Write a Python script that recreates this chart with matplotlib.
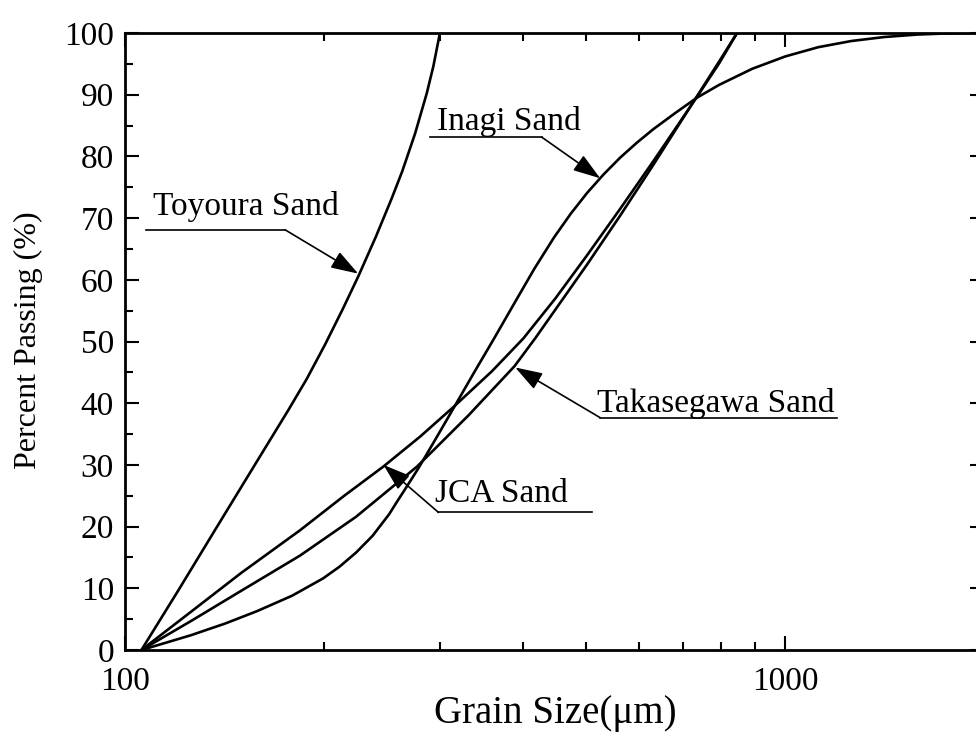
import numpy as np
import matplotlib
matplotlib.use("Agg")
import matplotlib.pyplot as plt
from matplotlib.ticker import FixedLocator, NullFormatter, MultipleLocator

plt.rcParams['font.family'] = ['Liberation Serif', 'DejaVu Serif']

# ---- data ----
toyoura_x = [105.9, 120.5, 136.8, 155.6, 176.8, 188.4, 200.9, 213.8, 225.7, 239.9, 253.5,
             263.0, 275.0, 286.4, 293.1, 299.9]
toyoura_y = [0, 9.7, 19.4, 29.2, 38.9, 43.9, 49.5, 55.3, 60.6, 67.0, 73.2,
             77.6, 83.7, 90.2, 94.6, 100]

inagi_x = [105.9, 112.2, 125.9, 141.9, 158.5, 179.1, 199.5, 211.3, 223.9, 237.1, 251.2,
           258.8, 266.1, 278.0, 295.1, 314.5, 338.8, 361.4, 391.7, 416.9, 446.7, 473.2,
           501.2, 530.9, 562.3, 595.7, 631.0, 680.8, 734.5, 794.3, 891.3, 1000, 1122,
           1259, 1413, 1585, 1778, 2000]
inagi_y = [0, 0.8, 2.4, 4.3, 6.3, 8.8, 11.6, 13.5, 15.8, 18.5, 22.0,
           24.2, 26.2, 29.4, 34.1, 39.2, 45.2, 50.3, 56.8, 61.8, 66.9, 70.7,
           74.1, 77.1, 79.8, 82.2, 84.4, 87.0, 89.5, 91.6, 94.2, 96.2, 97.7,
           98.7, 99.35, 99.75, 99.95, 100]

jca_x = [105.9, 125.9, 150.0, 184.1, 214.8, 246.0, 280.0, 314.5, 359.7, 401.2, 448.7,
         501.2, 562.3, 631.0, 734.5, 794.3, 845.3]
jca_y = [0, 6.2, 12.5, 19.4, 25.0, 29.7, 34.6, 39.4, 45.2, 50.5, 57.0,
         64.0, 71.5, 79.2, 89.6, 95.1, 100]

taka_x = [105.9, 125.9, 150.0, 184.1, 223.9, 276.7, 331.1, 389.0, 418.0, 501.2, 562.3,
          631.0, 734.5, 794.3, 845.3]
taka_y = [0, 4.7, 9.6, 15.3, 21.6, 29.7, 38.0, 46.0, 50.5, 62.5, 70.4,
          78.6, 89.7, 95.4, 100]

series = [
    (toyoura_x, toyoura_y),
    (inagi_x, inagi_y),
    (jca_x, jca_y),
    (taka_x, taka_y),
]

labels = ["Toyoura Sand", "Inagi Sand", "JCA Sand", "Takasegawa Sand"]
# text anchor, underline start/end, arrow tip  (data coordinates)
label_text = [(110.3, 70.5), (296.7, 84.3), (295, 24.0), (518.5, 38.6)]
line_start = [(107.5, 68.1), (289.8, 83.1), (509.5, 22.3), (1198, 37.65)]
line_end = [(174.8, 68.1), (428, 83.1), (298.4, 22.3), (524.5, 37.65)]
arrow_tip = [(225.5, 61.0), (524.5, 76.45), (246.3, 30.0), (389.9, 45.8)]

W, H = 976, 756
fig = plt.figure(figsize=(W / 100, H / 100), dpi=100)
left, right, top, bottom = 125, 984, 33, 650
ax = fig.add_axes([left / W, (H - bottom) / H, (right - left) / W, (bottom - top) / H])

for xs, ys in series:
    ax.plot(xs, ys, color='black', lw=1.9, solid_joinstyle='round', solid_capstyle='round')

ax.set_xscale('log')
ax.set_xlim(100, 2000)
ax.set_ylim(0, 100)

ax.xaxis.set_major_locator(FixedLocator([100, 1000]))
ax.xaxis.set_minor_locator(FixedLocator([200, 300, 400, 500, 600, 700, 800, 900, 2000]))
ax.xaxis.set_minor_formatter(NullFormatter())
ax.set_xticklabels(['100', '1000'])
ax.yaxis.set_major_locator(MultipleLocator(10))
ax.yaxis.set_minor_locator(MultipleLocator(5))

ax.tick_params(which='both', direction='in', top=True, right=True, width=1.5, colors='black')
ax.tick_params(which='major', length=10)
ax.tick_params(which='minor', length=6)
ax.tick_params(axis='x', which='major', labelsize=24, pad=12)
ax.tick_params(axis='y', which='major', labelsize=24, pad=8)
for s in ax.spines.values():
    s.set_linewidth(2.0)

for lab, tpos, ls, le, tip in zip(labels, label_text, line_start, line_end, arrow_tip):
    ax.text(tpos[0], tpos[1], lab, fontsize=24, ha='left', va='baseline')
    ax.plot([ls[0], le[0]], [ls[1], le[1]], color='black', lw=1.2)
    ax.annotate('', xy=tip, xytext=le,
                arrowprops=dict(arrowstyle='-|>,head_length=0.6,head_width=0.2',
                                color='black', lw=1.2, mutation_scale=28,
                                shrinkA=0, shrinkB=0))

fig.text(555 / W, 1 - 714 / H, 'Grain Size(μm)', fontsize=28, ha='center', va='center')
fig.text(28 / W, 1 - 340 / H, 'Percent Passing (%)', fontsize=23, ha='center', va='center',
         rotation=90)

fig.savefig('out.png', dpi=100)
